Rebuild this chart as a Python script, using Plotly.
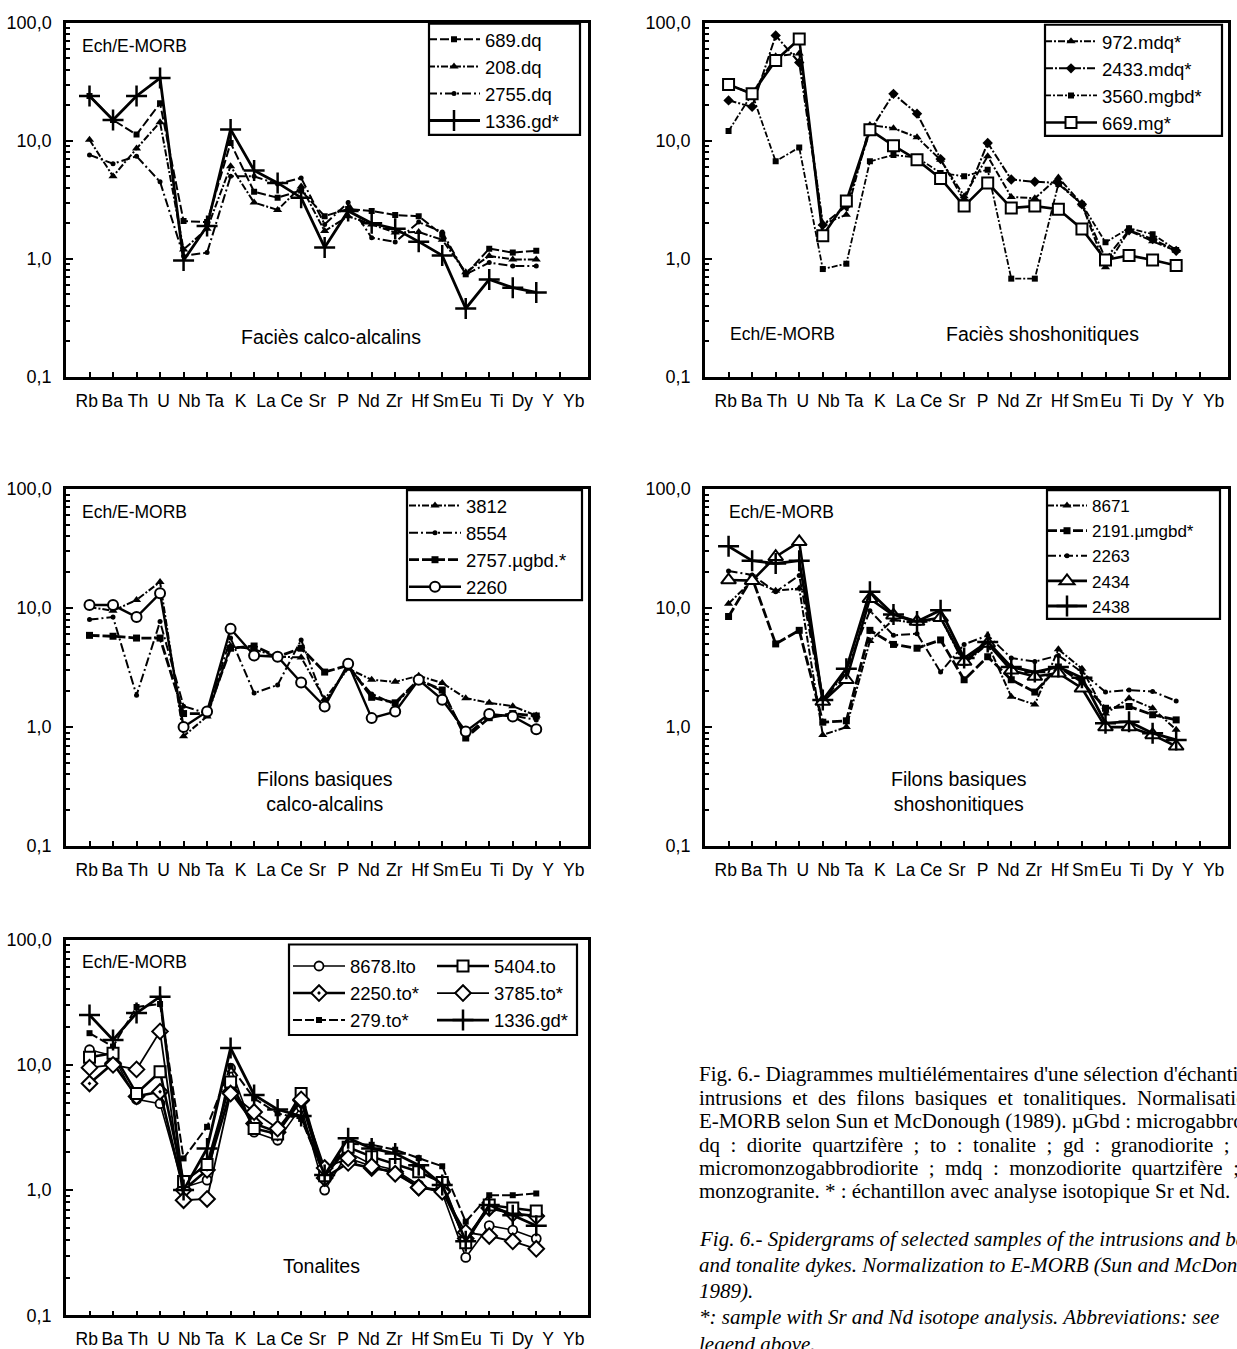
import math
import plotly.graph_objects as go

# ---------------- data ----------------
elements = ["Rb", "Ba", "Th", "U", "Nb", "Ta", "K", "La", "Ce", "Sr",
            "P", "Nd", "Zr", "Hf", "Sm", "Eu", "Ti", "Dy", "Y", "Yb"]
y_tick_values = [0.1, 1, 10, 100]
y_tick_text = ["0,1", "1,0", "10,0", "100,0"]

# Panel 1 - Faciès calco-alcalins
p1_689_dq = [24, 15, 11.3, 20.8, 2.09, 2.05, 9.6, 3.7, 3.3, 3.8, 2.3, 2.65, 2.55, 2.35, 2.3, 1.6, 0.74, 1.22, 1.13, 1.17]
p1_208_dq = [10.2, 5.0, 8.6, 14.4, 1.2, 1.8, 6.1, 3.0, 2.6, 4.1, 1.72, 2.3, 1.96, 1.67, 1.69, 1.45, 0.77, 1.06, 0.99, 0.99]
p1_2755_dq = [7.6, 6.4, 7.4, 4.5, 1.06, 1.13, 5.0, 5.0, 4.3, 4.85, 1.96, 3.0, 1.51, 1.39, 2.05, 1.69, 0.74, 0.93, 0.87, 0.87]
p1_1336_gd = [24, 15, 24, 34, 0.97, 1.9, 12.5, 5.6, 4.4, 3.3, 1.25, 2.55, 2.0, 1.8, 1.4, 1.07, 0.38, 0.67, 0.57, 0.52]

# Panel 2 - Faciès shoshonitiques
p2_972_mdq = [30, 25, 52, 55, 1.97, 2.36, 13.6, 12.8, 10.7, 6.9, 3.4, 7.4, 3.35, 3.26, 4.9, 2.9, 0.85, 1.73, 1.41, 1.17]
p2_2433_mdq = [22, 19.4, 78, 46, 1.94, 2.8, 12.1, 25, 17, 7.0, 3.1, 9.6, 4.7, 4.5, 4.4, 2.9, 1.0, 1.75, 1.47, 1.17]
p2_3560_mgbd = [12.1, 25, 6.7, 8.8, 0.82, 0.91, 6.7, 7.6, 7.2, 5.35, 5.0, 5.7, 0.68, 0.68, 4.3, 2.9, 1.38, 1.82, 1.62, 1.19]
p2_669_mg = [30, 25, 48, 73, 1.57, 3.09, 12.4, 9.1, 6.9, 4.8, 2.8, 4.4, 2.7, 2.8, 2.63, 1.79, 0.98, 1.07, 0.98, 0.88]

# Panel 3 - Filons basiques calco-alcalins
p3_3812 = [10.2, 9.5, 11.7, 16.6, 0.84, 1.23, 4.8, 4.5, 3.9, 3.85, 1.72, 3.1, 2.5, 2.4, 2.7, 2.35, 1.75, 1.6, 1.5, 1.25]
p3_8554 = [8.0, 8.4, 1.85, 7.7, 1.5, 1.3, 5.6, 1.93, 2.26, 5.4, 1.6, 3.2, 1.9, 1.55, 2.5, 2.0, 0.85, 1.25, 1.25, 1.15]
p3_2757_ugbd = [5.9, 5.8, 5.6, 5.6, 1.3, 1.3, 4.6, 4.8, 3.9, 4.6, 2.9, 3.3, 1.78, 1.6, 2.5, 2.05, 0.81, 1.2, 1.3, 1.24]
p3_2260 = [10.6, 10.6, 8.4, 13.3, 1.0, 1.35, 6.7, 4.0, 3.9, 2.37, 1.49, 3.4, 1.19, 1.35, 2.5, 1.7, 0.92, 1.29, 1.23, 0.96]

# Panel 4 - Filons basiques shoshonitiques
p4_8671 = [10.9, 17, 14, 14.6, 0.86, 1.0, 5.3, 8.0, 7.4, 8.3, 3.4, 5.0, 1.8, 1.55, 4.5, 3.1, 1.3, 1.75, 1.44, 0.95]
p4_2191_umgbd = [8.5, 18, 5.0, 6.5, 1.1, 1.13, 6.5, 4.95, 4.6, 5.4, 2.5, 3.9, 2.5, 1.97, 3.2, 2.4, 1.44, 1.49, 1.27, 1.15]
p4_2263 = [20.5, 19, 13.7, 18.8, 1.6, 3.0, 9.5, 5.9, 6.1, 2.9, 4.95, 5.9, 3.8, 3.55, 4.0, 2.9, 1.97, 2.05, 1.99, 1.66]
p4_2434 = [17.2, 17, 27, 36, 1.64, 2.5, 12, 8.7, 7.7, 8.3, 3.55, 5.05, 3.0, 2.66, 2.84, 2.12, 1.0, 1.0, 0.86, 0.69]
p4_2438 = [33, 25, 23.7, 25, 1.69, 3.1, 13.7, 8.85, 7.7, 9.6, 3.8, 5.2, 3.2, 2.9, 3.2, 2.6, 1.08, 1.11, 0.89, 0.78]

# Panel 5 - Tonalites
p5_8678_lto = [13.2, 11.8, 5.3, 4.9, 1.05, 1.2, 9.4, 2.9, 2.5, 4.6, 1.0, 2.0, 1.6, 1.45, 1.1, 0.95, 0.29, 0.52, 0.48, 0.41]
p5_5404_to = [11.5, 12.4, 5.9, 8.8, 1.17, 1.6, 7.3, 3.1, 2.8, 5.9, 1.3, 2.2, 1.85, 1.6, 1.4, 1.15, 0.38, 0.76, 0.72, 0.68]
p5_2250_to = [7.1, 10.3, 5.6, 6.1, 1.0, 1.45, 6.1, 3.4, 2.9, 5.2, 1.25, 1.65, 1.5, 1.4, 1.05, 1.0, 0.41, 0.72, 0.65, 0.62]
p5_3785_to = [9.5, 10.0, 9.2, 18.5, 0.83, 0.85, 5.9, 4.2, 3.1, 5.3, 1.5, 1.8, 1.55, 1.35, 1.05, 0.97, 0.46, 0.43, 0.39, 0.34]
p5_279_to = [17.9, 14, 29, 30.6, 1.79, 3.2, 9.7, 5.4, 4.1, 3.7, 1.3, 2.35, 2.3, 2.1, 1.8, 1.55, 0.56, 0.91, 0.91, 0.94]
p5_1336_gd = [25, 15.8, 25.9, 35, 1.0, 2.15, 13.6, 5.75, 4.4, 3.9, 1.32, 2.6, 2.15, 1.96, 1.58, 1.1, 0.39, 0.76, 0.63, 0.52]

# reference (dashed) level in each panel
ref_levels = [1.15, 1.17, 1.02, 1.0, 1.17]

norm_label = "Ech/E-MORB"
panel_titles = ["Faciès calco-alcalins", "Faciès shoshonitiques",
                "Filons basiques<br>calco-alcalins",
                "Filons basiques<br>shoshonitiques", "Tonalites"]

caption_fr = [
    "Fig. 6.- Diagrammes multiélémentaires d'une sélection d'échantillons des",
    "intrusions  et  des  filons  basiques  et  tonalitiques.  Normalisation  à",
    "E-MORB selon Sun et McDonough (1989). µGbd : microgabbrodiorite ;",
    "dq  :  diorite  quartzifère  ;  to  :  tonalite  ;  gd  :  granodiorite  ;  µmgbd :",
    "micromonzogabbrodiorite  ;  mdq  :  monzodiorite  quartzifère  ;  mg :",
    "monzogranite. * : échantillon avec analyse isotopique Sr et Nd.",
]
caption_en = [
    "Fig. 6.- Spidergrams of selected samples of the intrusions and basic",
    "and tonalite dykes. Normalization to E-MORB (Sun and McDonough,",
    "1989).",
    "*: sample with Sr and Nd isotope analysis. Abbreviations: see",
    "legend above.",
]

# ---------------- styles / layout ----------------
W, H = 1237, 1349
FONT = "Liberation Sans Narrow, Arial Narrow, Liberation Sans, Arial, sans-serif"
SERIF = "Liberation Serif, Times New Roman, serif"

STY = {
    "sq": dict(symbol="square", size=6, fill="black", mlw=0, lw=2, dash="9px,3px"),
    "tri": dict(symbol="triangle-up", size=8, fill="black", mlw=0, lw=2, dash="7px,2px,2px,2px"),
    "dot": dict(symbol="circle", size=5, fill="black", mlw=0, lw=2, dash="9px,3px,2px,3px"),
    "plus": dict(symbol="cross-thin-open", size=15, fill="black", mlw=2.5, lw=2.8, dash="solid"),
    "dia": dict(symbol="diamond", size=8, fill="black", mlw=0, lw=2, dash="8px,2px,2px,2px"),
    "sqo": dict(symbol="square", size=11, fill="white", mlw=2, lw=2.6, dash="solid"),
    "circo": dict(symbol="circle", size=10, fill="white", mlw=2, lw=2.4, dash="solid"),
    "trio": dict(symbol="triangle-up", size=13, fill="white", mlw=2, lw=2.6, dash="solid"),
    "diao": dict(symbol="diamond", size=12, fill="white", mlw=2, lw=1.8, dash="solid"),
    "diaod": dict(symbol="diamond-dot", size=12, fill="white", mlw=2, lw=2.6, dash="solid"),
    "sqthick": dict(symbol="square", size=7, fill="black", mlw=0, lw=2.8, dash="10px,3px"),
    "circthin": dict(symbol="circle", size=9, fill="white", mlw=1.8, lw=1.6, dash="solid"),
    "sqsmall": dict(symbol="square", size=6, fill="black", mlw=0, lw=1.8, dash="6px,2px,2px,2px"),
}

boxes = [(66, 588, 13, 373), (705, 1228, 13, 373), (66, 588, 487, 850),
         (705, 1228, 487, 850), (66, 588, 945, 1327)]

fig = go.Figure()


def add_series(panel, name, values, style, legend):
    s = STY[style]
    x = list(range(1, len(values) + 1))
    suffix = "" if panel == 1 else str(panel)
    fig.add_trace(go.Scatter(
        x=x, y=values, name=name, mode="lines+markers",
        xaxis="x" + suffix, yaxis="y" + suffix, legend=legend,
        legendgroup=f"{name}_{panel}",
        line=dict(color="black", width=s["lw"], dash=s["dash"]),
        marker=dict(symbol=s["symbol"], size=s["size"], color=s["fill"],
                    line=dict(color="black", width=s["mlw"])),
        hoverinfo="skip"))


add_series(1, "689.dq", p1_689_dq, "sq", "legend")
add_series(1, "208.dq", p1_208_dq, "tri", "legend")
add_series(1, "2755.dq", p1_2755_dq, "dot", "legend")
add_series(1, "1336.gd*", p1_1336_gd, "plus", "legend")

add_series(2, "972.mdq*", p2_972_mdq, "tri", "legend2")
add_series(2, "2433.mdq*", p2_2433_mdq, "dia", "legend2")
add_series(2, "3560.mgbd*", p2_3560_mgbd, "sqsmall", "legend2")
add_series(2, "669.mg*", p2_669_mg, "sqo", "legend2")

add_series(3, "3812", p3_3812, "tri", "legend3")
add_series(3, "8554", p3_8554, "dot", "legend3")
add_series(3, "2757.µgbd.*", p3_2757_ugbd, "sqthick", "legend3")
add_series(3, "2260", p3_2260, "circo", "legend3")

add_series(4, "8671", p4_8671, "tri", "legend4")
add_series(4, "2191.µmgbd*", p4_2191_umgbd, "sqthick", "legend4")
add_series(4, "2263", p4_2263, "dot", "legend4")
add_series(4, "2434", p4_2434, "trio", "legend4")
add_series(4, "2438", p4_2438, "plus", "legend4")

add_series(5, "8678.lto", p5_8678_lto, "circthin", "legend5")
add_series(5, "2250.to*", p5_2250_to, "diaod", "legend5")
add_series(5, "279.to*", p5_279_to, "sq", "legend5")
add_series(5, "5404.to", p5_5404_to, "sqo", "legend6")
add_series(5, "3785.to*", p5_3785_to, "diao", "legend6")
add_series(5, "1336.gd*", p5_1336_gd, "plus", "legend6")

n = len(elements)
label_pos = [0.88 + 1.09 * i for i in range(n)]
minor_x = list(range(1, n + 2))
minor_y = [k * 10 ** e for e in range(-1, 2) for k in range(2, 10)]

layout = dict(
    width=W, height=H, margin=dict(l=0, r=0, t=0, b=0),
    paper_bgcolor="white", plot_bgcolor="white",
    font=dict(family=FONT, size=18, color="black"),
    showlegend=True, shapes=[], annotations=[],
)

for i, (x0, x1, y0, y1) in enumerate(boxes):
    k = i + 1
    suf = "" if k == 1 else str(k)
    layout["xaxis" + suf] = dict(
        domain=[x0 / W, x1 / W], anchor="y" + suf, range=[0, 22.2],
        tickmode="array", tickvals=label_pos, ticktext=elements, ticks="",
        tickangle=0, ticklabelstandoff=6, showgrid=False, zeroline=False,
        showline=True, linecolor="black", linewidth=2.5, mirror=True,
        tickfont=dict(size=17.5),
        minor=dict(tickmode="array", tickvals=minor_x, ticks="inside",
                   ticklen=5, tickwidth=2, tickcolor="black", showgrid=False),
    )
    layout["yaxis" + suf] = dict(
        domain=[1 - y1 / H, 1 - y0 / H], anchor="x" + suf, type="log",
        range=[-1, 2], tickmode="array", tickvals=y_tick_values,
        ticktext=y_tick_text, ticks="inside", ticklen=7, tickwidth=2,
        tickcolor="black", ticklabelstandoff=8, showgrid=False,
        zeroline=False, showline=True, linecolor="black", linewidth=2.5,
        mirror=True, tickfont=dict(size=18),
        minor=dict(tickmode="array", tickvals=minor_y, ticks="inside",
                   ticklen=4, tickwidth=1.5, tickcolor="black", showgrid=False),
    )
    layout["shapes"].append(dict(
        type="line", xref=f"x{suf} domain", x0=0, x1=1, yref="y" + suf,
        y0=math.log10(ref_levels[i]), y1=math.log10(ref_levels[i]),
        line=dict(color="black", width=2.6, dash="9px,5px"), layer="below"))

# in-panel texts (position in axis-domain fractions)
ech_pos = [(0.027, 0.935), (0.044, 0.122), (0.027, 0.937), (0.042, 0.937), (0.027, 0.94)]
title_pos = [(0.508, 0.114), (0.646, 0.122), (0.496, 0.152), (0.485, 0.152), (0.49, 0.131)]
for i in range(5):
    suf = "" if i == 0 else str(i + 1)
    layout["annotations"].append(dict(
        text=norm_label, xref=f"x{suf} domain", yref=f"y{suf} domain",
        x=ech_pos[i][0], y=ech_pos[i][1], xanchor="left", yanchor="middle",
        showarrow=False, font=dict(size=17.5)))
    layout["annotations"].append(dict(
        text=panel_titles[i], xref=f"x{suf} domain", yref=f"y{suf} domain",
        x=title_pos[i][0], y=title_pos[i][1], xanchor="center", yanchor="middle",
        showarrow=False, font=dict(size=19.5)))

# legends: entries placed by plotly, framed by a rectangle
leg_common = dict(bgcolor="rgba(0,0,0,0)", borderwidth=0,
                  traceorder="grouped", tracegroupgap=0, xanchor="left",
                  yanchor="top", xref="paper", yref="paper", itemclick=False)
leg_cfg = {
    "legend": dict(pos=(423, 11), font=18.5, iw=52),
    "legend2": dict(pos=(1040, 13), font=18.5, iw=52),
    "legend3": dict(pos=(404, 485), font=18.5, iw=52),
    "legend4": dict(pos=(1042, 486), font=17, iw=40),
    "legend5": dict(pos=(288, 953), font=18.5, iw=52),
    "legend6": dict(pos=(432, 953), font=18.5, iw=52),
}
for key, c in leg_cfg.items():
    lx, ly = c["pos"]
    layout[key] = dict(leg_common, x=lx / W, y=1 - ly / H,
                       font=dict(size=c["font"]), itemwidth=c["iw"])

legend_frames = [(429, 580, 14, 127), (1045, 1222, 15, 128), (407, 582, 488, 600),
                 (1047, 1220, 488, 619), (289, 577, 950, 1042)]
for (fx0, fx1, fy0, fy1) in legend_frames:
    layout["shapes"].append(dict(
        type="rect", xref="paper", yref="paper", x0=fx0 / W, x1=fx1 / W,
        y0=1 - fy1 / H, y1=1 - fy0 / H, line=dict(color="black", width=2.2),
        fillcolor="white", layer="below"))

# caption
for j, line in enumerate(caption_fr):
    layout["annotations"].append(dict(
        text=line, xref="paper", yref="paper", x=697 / W,
        y=1 - (1082 + 23.8 * j) / H, xanchor="left", yanchor="middle",
        showarrow=False, font=dict(family=SERIF, size=21)))
for j, line in enumerate(caption_en):
    layout["annotations"].append(dict(
        text="<i>" + line + "</i>", xref="paper", yref="paper", x=697 / W,
        y=1 - (1249 + 26.7 * j) / H, xanchor="left", yanchor="middle",
        showarrow=False, font=dict(family=SERIF, size=21)))

fig.update_layout(layout)
fig.write_html("out.html", config={"displayModeBar": False},
               post_script="document.body.style.margin='0px';")
